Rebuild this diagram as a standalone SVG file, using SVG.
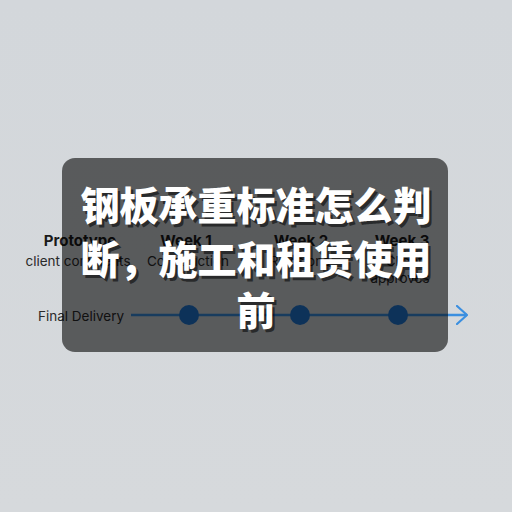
<svg xmlns="http://www.w3.org/2000/svg" width="512" height="512" viewBox="0 0 512 512">
  <defs>
    <linearGradient id="bg" x1="0" y1="0" x2="0" y2="1">
      <stop offset="0" stop-color="#d3d7db"/>
      <stop offset="1" stop-color="#d6d9dc"/>
    </linearGradient>
    <marker id="arrow" viewBox="0 0 12 20" refX="11" refY="10" markerWidth="12" markerHeight="20" markerUnits="userSpaceOnUse" orient="auto">
      <path d="M1 1 L11 10 L1 19" fill="none" stroke="#3b8fe0" stroke-width="2.2" stroke-linecap="round" stroke-linejoin="round"/>
    </marker>
    <style>
      .lbl { font-family: "Inter", "Liberation Sans", sans-serif; font-size: 13.5px; fill: #2a2a2a; text-anchor: middle; }
      .bold { font-weight: 700; fill: #1a1a1a; font-size: 15px; }
      .title { font-family: "Noto Sans CJK SC", "Noto Sans", sans-serif; font-weight: 900; font-size: 39px; text-anchor: middle; }
      .node { fill: #1f78d4; }
    </style>
  </defs>

  <rect width="512" height="512" fill="url(#bg)"/>

  <g id="connectors">
    <line x1="131" y1="315" x2="467" y2="315" stroke="#3b8fe0" stroke-width="2.5" marker-end="url(#arrow)"/>
  </g>

  <g id="final-delivery">
    <text class="lbl" x="38" y="321" style="text-anchor:start">Final Delivery</text>
  </g>
  <g id="prototype">
    <text class="lbl bold" x="80" y="246">Prototype</text>
    <text class="lbl" x="78" y="266">client comments</text>
  </g>
  <g id="week1">
    <text class="lbl bold" x="186" y="246">Week 1</text>
    <text class="lbl" x="188" y="266">Construction</text>
    <circle class="node" cx="189" cy="315" r="10"/>
  </g>
  <g id="week2">
    <text class="lbl bold" x="301" y="246">Week 2</text>
    <text class="lbl" x="300" y="266">Revisions</text>
    <circle class="node" cx="300" cy="315" r="10"/>
  </g>
  <g id="week3">
    <text class="lbl bold" x="402" y="246">Week 3</text>
    <text class="lbl" x="404" y="266">Client</text>
    <text class="lbl" x="400" y="283">approves</text>
    <circle class="node" cx="398" cy="315" r="10"/>
  </g>

  <g id="overlay">
    <rect x="62" y="158" width="386" height="194" rx="13" fill="#000" fill-opacity="0.58"/>
    <g class="title" fill="#000" fill-opacity="0.55" transform="translate(2.5,2.5)">
      <text x="256" y="220">钢板承重标准怎么判</text>
      <text x="256" y="274">断，施工和租赁使用</text>
      <text x="256" y="325">前</text>
    </g>
    <g class="title" fill="#ffffff">
      <text x="256" y="220">钢板承重标准怎么判</text>
      <text x="256" y="274">断，施工和租赁使用</text>
      <text x="256" y="325">前</text>
    </g>
  </g>
</svg>
